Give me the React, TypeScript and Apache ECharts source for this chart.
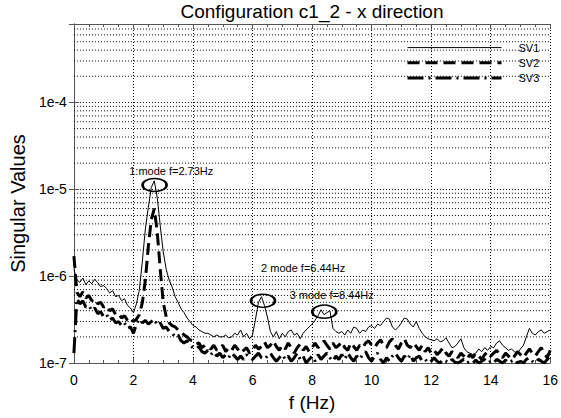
import React, { useEffect, useRef } from "react";
import * as echarts from "echarts";

const TITLE = "Configuration c1_2 - x direction";
const X_NAME = "f (Hz)";
const Y_NAME = "Singular Values";
const SERIES_NAMES = ["SV1", "SV2", "SV3"];

// frequency spacing of the samples (Hz); values are given in units of 1e-7
const FREQ_STEP = 0.1;
const VALUE_UNIT = 1e-7;

const SV1 = [
  12, 9, 8.5, 9.5, 8, 8.8, 8.2, 9.2, 8.4, 7.6,
  7.8, 7.2, 6.4, 6.8, 5.8, 6.0, 5.2, 5.5, 4.6, 4.3,
  3.8, 4.8, 7.0, 15, 35, 62, 105, 125, 80, 38,
  19, 12, 9, 7.5, 5.8, 5.0, 4.2, 3.8, 3.3, 3.0,
  2.7, 2.6, 2.4, 2.3, 2.2, 2.2, 2.1, 2.0, 2.1, 2.0,
  2.0, 2.1, 1.95, 2.0, 2.2, 2.1, 2.4, 2.0, 2.2, 1.9,
  2.1, 3.2, 5.0, 5.8, 4.6, 3.4, 2.3, 2.0, 2.3, 1.9,
  2.2, 2.0, 2.3, 2.4, 2.1, 2.2, 1.9, 2.2, 2.4, 2.6,
  2.8, 3.1, 3.5, 4.1, 3.6, 3.8, 4.0, 2.5, 2.3, 2.2,
  2.3, 2.1, 2.4, 2.2, 2.6, 2.5, 2.2, 2.4, 2.3, 2.6,
  2.7, 2.5, 2.8, 2.7, 3.0, 3.3, 3.2, 2.6, 2.4, 2.6,
  2.9, 3.3, 3.2, 2.8, 2.6, 3.0, 2.5, 2.2, 2.0, 1.9,
  1.85, 1.8, 1.9, 1.75, 1.8, 1.95, 1.7, 1.5, 1.55, 1.7,
  1.9, 1.5, 1.35, 1.3, 1.25, 1.3, 1.45, 1.35, 1.5, 1.4,
  1.55, 1.5, 1.7, 1.8, 1.6, 1.5, 1.4, 1.45, 1.35, 1.3,
  1.45, 1.6, 2.0, 2.5, 2.2, 2.1, 2.3, 2.4, 2.2, 2.3,
  2.4,
];

const SV2 = [
  17, 6.5, 5.8, 6.6, 5.6, 6.0, 5.2, 5.5, 4.8, 5.0,
  4.4, 4.6, 4.0, 4.2, 3.6, 3.7, 3.3, 3.5, 3.1, 3.3,
  3.0, 3.2, 3.6, 5.0, 9, 22, 45, 60, 32, 12,
  5, 3.4, 2.9, 2.7, 2.6, 2.4, 2.3, 2.1, 2.0, 1.85,
  1.8, 1.65, 1.7, 1.5, 1.6, 1.55, 1.45, 1.6, 1.4, 1.5,
  1.6, 1.35, 1.5, 1.4, 1.6, 1.45, 1.3, 1.4, 1.5, 1.3,
  1.4, 1.6, 1.45, 1.55, 1.75, 1.5, 1.6, 1.8, 1.55, 1.4,
  1.6, 1.45, 1.7, 1.5, 1.3, 1.5, 1.65, 1.4, 1.55, 1.35,
  1.5, 1.7, 1.5, 1.6, 1.8, 1.6, 1.45, 1.7, 1.5, 1.6,
  1.75, 1.5, 1.4, 1.7, 1.55, 1.4, 1.6, 1.5, 1.7, 1.8,
  1.6, 1.5, 1.7, 1.85, 1.6, 1.5, 1.75, 1.9, 1.6, 1.45,
  1.7, 1.9, 1.6, 1.5, 1.7, 1.55, 1.4, 1.6, 1.35, 1.5,
  1.3, 1.4, 1.25, 1.35, 1.5, 1.3, 1.2, 1.35, 1.25, 1.15,
  1.3, 1.2, 1.1, 1.25, 1.15, 1.3, 1.2, 1.1, 1.25, 1.35,
  1.2, 1.3, 1.4, 1.25, 1.15, 1.3, 1.2, 1.1, 1.2, 1.35,
  1.25, 1.15, 1.3, 1.45, 1.3, 1.2, 1.35, 1.5, 1.3, 1.15,
  1.4,
];

const SV3 = [
  1.3, 5.5, 4.8, 5.2, 4.4, 4.6, 4.0, 4.3, 3.7, 3.9,
  3.4, 3.6, 3.1, 3.3, 2.9, 3.0, 2.7, 2.9, 2.5, 2.6,
  2.2, 2.8, 3.2, 2.9, 3.1, 2.8, 3.0, 3.2, 2.7, 2.9,
  2.5, 2.6, 2.3, 2.2, 2.0, 2.1, 1.8, 1.7, 1.8, 1.6,
  1.5, 1.45, 1.55, 1.35, 1.3, 1.4, 1.25, 1.35, 1.2, 1.3,
  1.15, 1.25, 1.15, 1.3, 1.2, 1.1, 1.2, 1.1, 1.25, 1.15,
  1.1, 1.2, 1.3, 1.15, 1.1, 1.2, 1.3, 1.15, 1.05, 1.15,
  1.25, 1.1, 1.2, 1.05, 1.15, 1.3, 1.1, 1.2, 1.0, 1.1,
  1.2, 1.05, 1.25, 1.1, 1.2, 1.3, 1.15, 1.05, 1.2, 1.1,
  1.25, 1.1, 1.3, 1.15, 1.05, 1.2, 1.1, 1.25, 1.35, 1.15,
  1.05, 1.2, 1.3, 1.1, 1.0, 1.15, 1.05, 1.2, 1.3, 1.15,
  1.05, 1.2, 1.1, 1.25, 1.05, 1.15, 1.2, 1.05, 1.1, 1.0,
  1.05, 1.15, 1.05, 1.0, 1.1, 1.05, 1.0, 1.1, 1.02, 1.0,
  1.05, 1.1, 1.0, 1.05, 1.0, 1.08, 1.0, 1.05, 1.1, 1.0,
  1.05, 1.0, 1.1, 1.05, 1.0, 1.08, 1.0, 1.05, 1.1, 1.0,
  1.05, 1.0, 1.1, 1.15, 1.05, 1.0, 1.1, 1.05, 1.0, 1.1,
  1.2,
];

const X_MIN = 0;
const X_MAX = 16;
const X_INTERVAL = 2;
const Y_MIN = 1e-7;
const Y_MAX = 8e-4;
const GRID_DECADES = [1e-7, 1e-6, 1e-5, 1e-4];
const GRID_MULTIPLIERS = [2, 3, 4, 5, 6, 7, 8, 9];

// mode annotations: ellipse around the peak, label above it (data coordinates)
const MODE_LABELS = ["1:mode f=2.73Hz", "2 mode f=6.44Hz", "3 mode f=8.44Hz"];
const MODE_PEAKS: [number, number][] = [[2.71, 1.12e-5], [6.35, 5.2e-7], [8.41, 3.9e-7]];
const MODE_LABEL_AT: [number, number][] = [[3.27, 1.61e-5], [7.7, 1.236e-6], [8.66, 6.05e-7]];

const FONT = "'Liberation Sans', Arial, Helvetica, sans-serif";

function toPairs(vals: number[]) {
  return vals.map((v, i) => [Number((i * FREQ_STEP).toFixed(2)), v * VALUE_UNIT]);
}

export default function App() {
  const ref = useRef<HTMLDivElement>(null);

  useEffect(() => {
    if (!ref.current) return;
    const chart = echarts.init(ref.current, undefined, { renderer: "svg" });

    const minorGrid: number[] = [];
    GRID_DECADES.forEach((d) =>
      GRID_MULTIPLIERS.forEach((m) => {
        const v = d * m;
        if (v < Y_MAX * 0.999) minorGrid.push(v);
      })
    );

    const dotted = { color: "#000", type: [1, 2] as any, width: 1 };
    const axisColor = "#555";

    const sv2Dash = [12, 6];
    const sv3Dash = [16, 5, 2, 5];

    const option: any = {
      animation: false,
      textStyle: { fontFamily: FONT },
      graphic: [
        {
          type: "text",
          x: 312,
          y: 11,
          style: {
            text: TITLE,
            fontSize: 19,
            fontFamily: FONT,
            fill: "#000",
            align: "center",
            verticalAlign: "middle",
          },
        },
      ],
      grid: { left: 70, right: 7, top: 24, bottom: 55, show: false },
      legend: {
        orient: "vertical",
        left: 401,
        top: 37,
        itemWidth: 94,
        itemHeight: 14,
        itemGap: 4,
        itemStyle: { opacity: 0 },
        textStyle: { fontSize: 11, color: "#000", fontFamily: FONT, padding: [0, 0, 0, 12] },
        data: [
          { name: SERIES_NAMES[0], lineStyle: { width: 1, color: "#000", type: "solid" } },
          { name: SERIES_NAMES[1], lineStyle: { width: 3, color: "#000", type: sv2Dash } },
          { name: SERIES_NAMES[2], lineStyle: { width: 3, color: "#000", type: sv3Dash } },
        ],
      },
      xAxis: [
        {
          type: "value",
          min: X_MIN,
          max: X_MAX,
          interval: X_INTERVAL,
          position: "bottom",
          axisLine: { show: true, lineStyle: { color: axisColor, width: 1 } },
          axisTick: { show: true, inside: true, length: 5, lineStyle: { color: axisColor } },
          minorTick: { show: true, splitNumber: 4, length: 3, lineStyle: { color: axisColor } },
          axisLabel: { color: "#000", fontSize: 14, margin: 10, fontFamily: FONT },
          splitLine: { show: true, lineStyle: dotted },
          name: X_NAME,
          nameLocation: "middle",
          nameGap: 30,
          nameTextStyle: { fontSize: 19, color: "#000", fontFamily: FONT },
        },
        {
          type: "value",
          min: X_MIN,
          max: X_MAX,
          interval: X_INTERVAL,
          position: "top",
          axisLine: { show: true, lineStyle: { color: axisColor, width: 1 } },
          axisTick: { show: true, inside: true, length: 5, lineStyle: { color: axisColor } },
          minorTick: { show: true, splitNumber: 4, length: 3, lineStyle: { color: axisColor } },
          axisLabel: { show: false },
          splitLine: { show: false },
        },
      ],
      yAxis: [
        {
          type: "log",
          logBase: 10,
          min: Y_MIN,
          max: Y_MAX,
          position: "left",
          axisLine: { show: true, lineStyle: { color: axisColor, width: 1 } },
          axisTick: { show: true, inside: true, length: 5, lineStyle: { color: axisColor } },
          axisLabel: {
            color: "#000",
            fontSize: 14,
            margin: 7,
            fontFamily: FONT,
            showMaxLabel: false,
            formatter: (v: number) => "1e" + Math.round(Math.log10(v)),
          },
          splitLine: { show: true, lineStyle: dotted },
          name: Y_NAME,
          nameLocation: "middle",
          nameGap: 40,
          nameTextStyle: { fontSize: 20, color: "#000", fontFamily: FONT, padding: [0, 20, 0, 0] },
        },
        {
          type: "log",
          logBase: 10,
          min: Y_MIN,
          max: Y_MAX,
          position: "right",
          axisLine: { show: true, lineStyle: { color: axisColor, width: 1 } },
          axisTick: { show: true, inside: true, length: 5, lineStyle: { color: axisColor } },
          axisLabel: { show: false },
          splitLine: { show: false },
        },
      ],
      series: [
        {
          name: "minor-grid",
          type: "custom",
          silent: true,
          z: 1,
          data: minorGrid.map((v) => [X_MIN, v]),
          encode: { x: 0, y: 1 },
          renderItem: (_params: any, api: any) => {
            const v = api.value(1);
            const p1 = api.coord([X_MIN, v]);
            const p2 = api.coord([X_MAX, v]);
            return {
              type: "line",
              shape: { x1: p1[0], y1: p1[1], x2: p2[0], y2: p2[1] },
              style: { stroke: "#000", lineWidth: 1, lineDash: [1, 2], fill: null },
            };
          },
        },
        {
          name: SERIES_NAMES[0],
          type: "line",
          data: toPairs(SV1),
          symbol: "none",
          color: "#000",
          z: 4,
          lineStyle: { color: "#000", width: 1 },
          markPoint: {
            silent: true,
            data: [
              ...MODE_PEAKS.map((c) => ({
                coord: c,
                symbol: "circle",
                symbolSize: [24, 13],
                itemStyle: { color: "rgba(0,0,0,0)", borderColor: "#000", borderWidth: 2 },
                label: { show: false },
              })),
              ...MODE_LABEL_AT.map((c, i) => ({
                coord: c,
                symbol: "circle",
                symbolSize: 1,
                itemStyle: { color: "rgba(0,0,0,0)" },
                label: {
                  show: true,
                  position: "inside",
                  formatter: MODE_LABELS[i],
                  fontSize: 11,
                  color: "#000",
                  fontFamily: FONT,
                },
              })),
            ],
          },
        },
        {
          name: SERIES_NAMES[1],
          type: "line",
          data: toPairs(SV2),
          symbol: "none",
          color: "#000",
          z: 3,
          lineStyle: { color: "#000", width: 3, type: sv2Dash, cap: "butt" },
        },
        {
          name: SERIES_NAMES[2],
          type: "line",
          data: toPairs(SV3),
          symbol: "none",
          color: "#000",
          z: 2,
          lineStyle: { color: "#000", width: 3, type: sv3Dash, cap: "butt" },
        },
      ],
    };

    chart.setOption(option);
    return () => chart.dispose();
  }, []);

  return (
    <div
      ref={ref}
      style={{ position: "fixed", left: 0, top: 0, width: 561, height: 418, background: "#fff" }}
    />
  );
}
